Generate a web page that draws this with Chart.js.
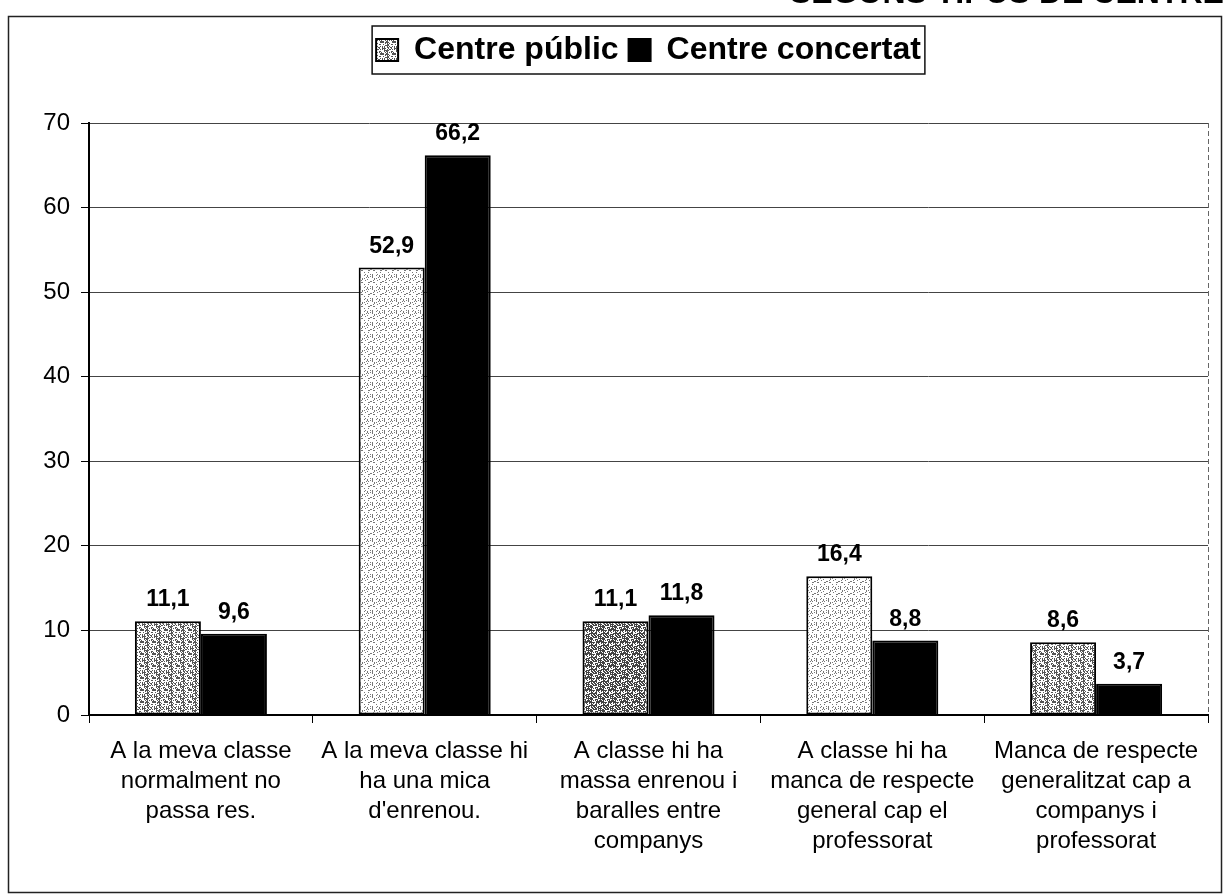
<!DOCTYPE html>
<html>
<head>
<meta charset="utf-8">
<script src="https://cdn.jsdelivr.net/npm/chart.js@4"></script>
<style>
  body { margin: 0; background: #fff; overflow: hidden; }
  #wrap { position: relative; width: 1226px; height: 894px; overflow: hidden; }
  #cutTitle {
    position: absolute; top: -24px; left: 790px; white-space: nowrap;
    font: bold 32px "Liberation Sans", Arial, sans-serif; line-height: 32px; color: #000;
  }
</style>
</head>
<body>
<div id="wrap">
  <div id="cutTitle">SEGONS TIPUS DE CENTRE</div>
  <canvas id="chart" width="1226" height="894"></canvas>
</div>
<script>
// Categories and values
const categories = [
    ['A la meva classe', 'normalment no', 'passa res.'],
    ['A la meva classe hi', 'ha una mica', "d'enrenou."],
    ['A classe hi ha', 'massa enrenou i', 'baralles entre', 'companys'],
    ['A classe hi ha', 'manca de respecte', 'general cap el', 'professorat'],
    ['Manca de respecte', 'generalitzat cap a', 'companys i', 'professorat']
];
const seriesNames = ['Centre públic', 'Centre concertat'];
const publicValues = [11.1, 52.9, 11.1, 16.4, 8.6];
const concertatValues = [9.6, 66.2, 11.8, 8.8, 3.7];
const yTicks = [0, 10, 20, 30, 40, 50, 60, 70];

const FONT = '"Liberation Sans", Arial, sans-serif';
Chart.defaults.font.family = FONT;
Chart.defaults.color = '#000';

// stipple texture for the "public" bars (scanned grey dots)
function stipple(density, shade) {
    const c = document.createElement('canvas');
    c.width = 12; c.height = 12;
    const g = c.getContext('2d');
    g.fillStyle = '#fff';
    g.fillRect(0, 0, 12, 12);
    g.fillStyle = shade;
    for (let y = 0; y < 12; y++) {
        for (let x = 0; x < 12; x++) {
            const h = (x * 73 + y * 151 + ((x * y * 17) % 13)) % 10;
            if (h < density) g.fillRect(x, y, 1, 1);
        }
    }
    return g.createPattern(c, 'repeat');
}
const ctx = document.getElementById('chart').getContext('2d');
const pLight = stipple(2, '#777');
const pMed = stipple(4, '#555');
const pDark = stipple(6, '#444');
const publicFills = [pMed, pLight, pDark, pLight, pMed];

// gap between legend and plot
const legendGap = {
    id: 'legendGap',
    afterInit(chart) {
        const fit = chart.legend.fit;
        chart.legend.fit = function () { fit.call(this); this.height += 47; };
    }
};

const frame = {
    id: 'frame',
    beforeDraw(chart) {
        const c = chart.ctx;
        c.save();
        c.fillStyle = '#fff';
        c.fillRect(0, 0, chart.width, chart.height);
        c.strokeStyle = '#222';
        c.lineWidth = 1.5;
        c.strokeRect(8.5, 16.5, 1213, 876);
        const a = chart.chartArea;
        c.lineWidth = 1;
        c.strokeStyle = '#666';
        c.setLineDash([5, 3]);
        c.beginPath();
        c.moveTo(a.right + 0.5, a.top);
        c.lineTo(a.right + 0.5, a.bottom);
        c.stroke();
        c.restore();
    },
    afterDraw(chart) {
        const hb = chart.legend.legendHitBoxes;
        if (!hb || !hb.length) return;
        const first = hb[0], last = hb[hb.length - 1];
        const c = chart.ctx;
        c.save();
        c.strokeStyle = '#111';
        c.lineWidth = 1.5;
        c.strokeRect(first.left - 4, first.top - 8, last.left + last.width + 4 - (first.left - 4), first.height + 16);
        c.restore();
    }
};

const valueLabels = {
    id: 'valueLabels',
    afterDatasetsDraw(chart) {
        const c = chart.ctx;
        c.save();
        c.font = 'bold 23px ' + FONT;
        c.fillStyle = '#000';
        c.textAlign = 'center';
        c.textBaseline = 'alphabetic';
        chart.data.datasets.forEach((ds, i) => {
            chart.getDatasetMeta(i).data.forEach((bar, j) => {
                c.fillText(ds.data[j].toFixed(1).replace('.', ','), bar.x, bar.y - 15);
            });
        });
        c.restore();
    }
};

new Chart(ctx, {
    type: 'bar',
    data: {
        labels: categories,
        datasets: [{
            label: seriesNames[0],
            data: publicValues,
            backgroundColor: (c) => c.dataIndex === undefined ? pLight : publicFills[c.dataIndex],
            borderColor: '#000',
            borderWidth: 2,
            borderSkipped: false
        }, {
            label: seriesNames[1],
            data: concertatValues,
            backgroundColor: '#000',
            borderColor: '#000',
            borderWidth: 2
        }]
    },
    options: {
        responsive: false,
        animation: false,
        devicePixelRatio: 1,
        layout: { padding: { left: 10, right: 18, top: 24, bottom: 0 } },
        datasets: { bar: { categoryPercentage: 0.59, barPercentage: 1 } },
        plugins: {
            tooltip: { enabled: false },
            legend: {
                position: 'top',
                fullSize: false,
                labels: {
                    boxWidth: 22,
                    boxHeight: 22,
                    padding: 10,
                    color: '#000',
                    font: { size: 32, weight: 'bold' }
                }
            }
        },
        scales: {
            x: {
                afterFit(s) { s.height = 179; },
                grid: { display: true, drawOnChartArea: false, tickLength: 8, color: '#000', offset: true },
                border: { color: '#000', width: 2 },
                ticks: {
                    autoSkip: false, maxRotation: 0, padding: 13, color: '#000',
                    font: { size: 24, lineHeight: 1.25 }
                }
            },
            y: {
                min: 0,
                max: 70,
                afterFit(s) { s.width = 79; },
                afterBuildTicks(s) { s.ticks = yTicks.map(v => ({ value: v })); },
                grid: { color: '#444', lineWidth: 1, tickLength: 8, tickColor: '#000' },
                border: { color: '#000', width: 2 },
                ticks: { padding: 11, color: '#000', font: { size: 24 } }
            }
        }
    },
    plugins: [legendGap, frame, valueLabels]
});
</script>
</body>
</html>
